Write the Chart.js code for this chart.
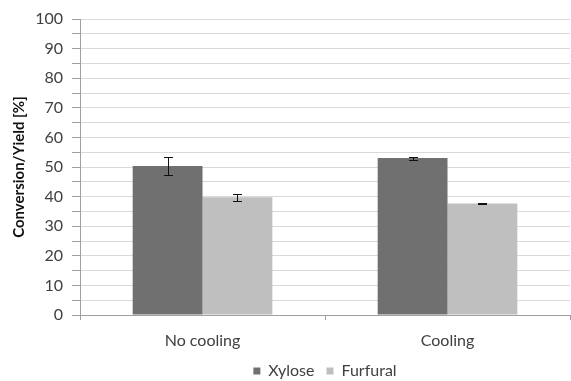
<!DOCTYPE html>
<html><head><meta charset="utf-8">
<script src="https://cdn.jsdelivr.net/npm/chart.js@4/dist/chart.umd.min.js"></script>
<style>html,body{margin:0;padding:0;background:#fff}#wrap{width:571px;height:381px}</style>
</head><body><div id="wrap"><canvas id="c" width="571" height="381"></canvas></div>
<script>
const categories = ["No cooling", "Cooling"];
const xyloseValues = [50.3, 53.0];
const xyloseErrors = [3.0, 0.5];
const furfuralValues = [39.8, 37.7];
const furfuralErrors = [1.2, 0.3];
const yTicks = [0, 10, 20, 30, 40, 50, 60, 70, 80, 90, 100];

const errorBarPlugin = {
  id: 'errorBars',
  afterDatasetsDraw(chart) {
    const ctx = chart.ctx;
    const y = chart.scales.y;
    chart.data.datasets.forEach((ds, di) => {
      const meta = chart.getDatasetMeta(di);
      meta.data.forEach((bar, i) => {
        const v = ds.data[i], e = ds.errors[i];
        const top = Math.round(y.getPixelForValue(v + e)), bot = Math.round(y.getPixelForValue(v - e));
        const cx = Math.round(bar.x);
        ctx.save();
        ctx.strokeStyle = '#111';
        ctx.lineWidth = 1;
        ctx.beginPath();
        ctx.moveTo(cx + 0.5, top); ctx.lineTo(cx + 0.5, bot);
        ctx.moveTo(cx - 4, top + 0.5); ctx.lineTo(cx + 5, top + 0.5);
        ctx.moveTo(cx - 4, bot + 0.5); ctx.lineTo(cx + 5, bot + 0.5);
        ctx.stroke();
        ctx.restore();
      });
    });
  }
};

new Chart(document.getElementById('c'), {
  type: 'bar',
  data: {
    labels: categories,
    datasets: [
      { label: 'Xylose', data: xyloseValues, errors: xyloseErrors, backgroundColor: '#707070' },
      { label: 'Furfural', data: furfuralValues, errors: furfuralErrors, backgroundColor: '#bfbfbf' }
    ]
  },
  options: {
    responsive: false,
    animation: false,
    devicePixelRatio: 1,
    layout: { padding: { left: 0, right: 1, top: 19, bottom: -8 } },
    datasets: { bar: { categoryPercentage: 0.57, barPercentage: 1.0 } },
    plugins: {
      legend: {
        position: 'bottom',
        fullSize: false,
        labels: { boxWidth: 7, boxHeight: 7, color: '#404040', font: { family: 'Lato', size: 16 }, padding: 12 }
      },
      tooltip: { enabled: false }
    },
    scales: {
      x: {
        afterFit(s) { s.height = 36; },
        grid: { display: true, drawOnChartArea: false, drawTicks: true, tickLength: 5, color: '#a0a0a0', offset: true },
        border: { color: '#a0a0a0' },
        ticks: { color: '#404040', font: { family: 'Lato', size: 16 }, padding: 11 }
      },
      y: {
        min: 0, max: 100,
        afterFit(s) { s.width = 80; },
        afterBuildTicks(scale) {
          const t = [];
          for (let v = 0; v <= 100; v += 5) t.push({ value: v });
          scale.ticks = t;
        },
        grid: { color: '#d9d9d9', tickLength: 8, tickColor: '#a0a0a0' },
        border: { color: '#a0a0a0' },
        ticks: {
          color: '#404040', font: { family: 'Lato', size: 16 }, padding: 9,
          autoSkip: false,
          callback: (v) => yTicks.includes(v) ? String(v) : ''
        },
        title: { display: true, text: 'Conversion/Yield [%]', color: '#111', font: { family: 'Lato', size: 15, weight: 'bold' }, padding: { top: 10, bottom: 2 } }
      }
    }
  },
  plugins: [errorBarPlugin]
});
</script></body></html>
